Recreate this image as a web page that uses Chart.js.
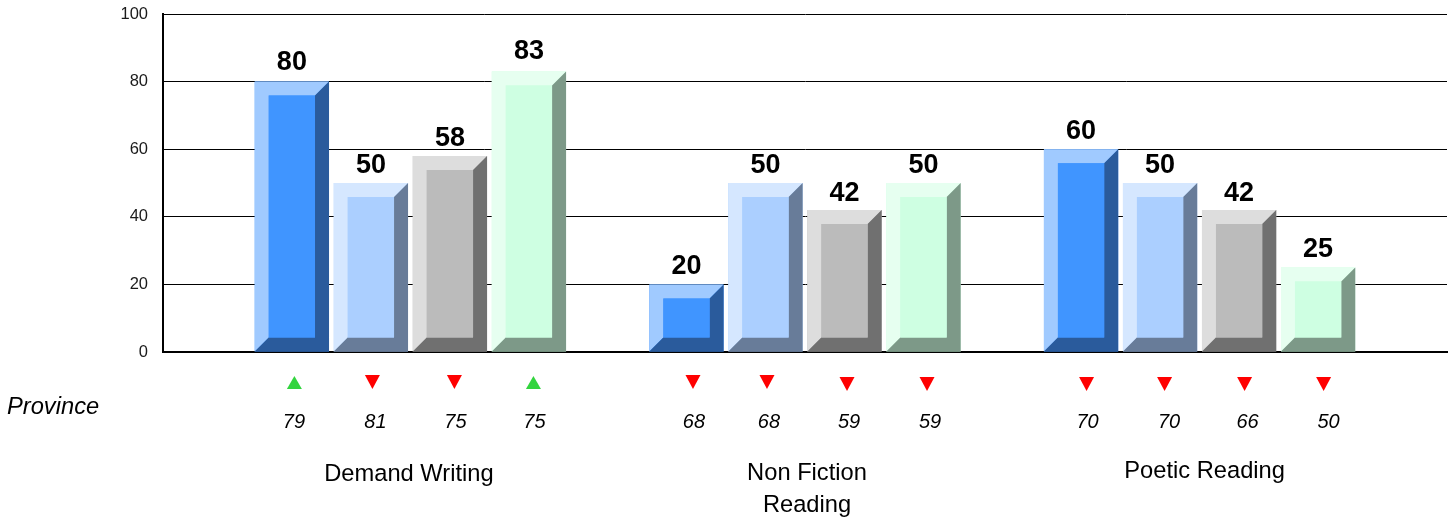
<!DOCTYPE html>
<html lang="en">
<head>
  <meta charset="UTF-8">
  <title>Demand Writing, Non Fiction Reading, Poetic Reading</title>
  <style>
    html, body { margin: 0; background: #fff; }
    canvas { display: block; }
  </style>
</head>
<body>
  <canvas id="chart" width="1448" height="519"></canvas>

  <script src="https://cdn.jsdelivr.net/npm/chart.js"></script>
  <script>
    const categories = [['Demand Writing'], ['Non Fiction', 'Reading'], ['Poetic Reading']];
    const yTicks = [0, 20, 40, 60, 80, 100];

    const seriesA = [80, 20, 60];
    const seriesB = [50, 50, 50];
    const seriesC = [58, 42, 42];
    const seriesD = [83, 50, 25];

    const provinceA = [79, 68, 70];
    const provinceB = [81, 68, 70];
    const provinceC = [75, 59, 66];
    const provinceD = [75, 59, 50];

    // face, light bevel (top/left), dark bevel (right/bottom)
    const palette = [
      ['#4095ff', '#a0caff', '#2a5b9c'],
      ['#abcfff', '#d5e7ff', '#687c99'],
      ['#bbbbbb', '#dddddd', '#707070'],
      ['#ceffe2', '#e6fff0', '#7d9988']
    ];

    const allSeries = [seriesA, seriesB, seriesC, seriesD];
    const allProvince = [provinceA, provinceB, provinceC, provinceD];

    // the original labels are not centred on their bars, small offsets in px
    const markerNudge = [[2.5, 1.5, 4.5, 4.5], [6.5, 1.5, 2.5, 3.5], [5.5, 4.5, 5.5, 5.5]];
    const markerTop = [[376, 375, 375, 376], [375, 375, 377, 377], [377, 377, 377, 377]];
    const provinceNudge = [[2, 4.5, 5.5, 5.5], [7.5, 3.5, 4.5, 6.5], [6.5, 9, 8.5, 10.5]];
    const valueNudge = [[-2, 0, 0, -2], [0, 0, 1, 0], [0, 0, 1, -1]];
    const categoryNudge = [-1.5, 2, 5];
    const categoryY = [473, 472, 470];

    const BEVEL = 14;
    const FONT = "'Liberation Sans', Arial, sans-serif";

    function poly(ctx, color, pts) {
      ctx.fillStyle = color;
      ctx.beginPath();
      pts.forEach((p, i) => i ? ctx.lineTo(p[0], p[1]) : ctx.moveTo(p[0], p[1]));
      ctx.closePath();
      ctx.fill();
    }

    const bevelPlugin = {
      id: 'bevel',
      afterDatasetsDraw(chart) {
        const ctx = chart.ctx;
        ctx.save();
        chart.data.datasets.forEach((ds, d) => {
          const [face, light, dark] = palette[d];
          chart.getDatasetMeta(d).data.forEach((bar, i) => {
            const l = bar.x - bar.width / 2, r = bar.x + bar.width / 2;
            const t = bar.y, b = bar.base;
            const il = l + BEVEL, ir = r - BEVEL, it = t + BEVEL, ib = b - BEVEL;
            poly(ctx, light, [[l, t], [r, t], [ir, it], [il, it], [il, ib], [l, b]]);
            poly(ctx, dark, [[r, t], [r, b], [l, b], [il, ib], [ir, ib], [ir, it]]);
            poly(ctx, face, [[il, it], [ir, it], [ir, ib], [il, ib]]);

            // value on top of the bar
            ctx.fillStyle = '#000';
            ctx.font = 'bold 27px ' + FONT;
            ctx.textAlign = 'center';
            ctx.textBaseline = 'alphabetic';
            ctx.fillText(allSeries[d][i], bar.x, t - 10 + valueNudge[i][d]);

            // province comparison, triangle and number
            const mx = bar.x + markerNudge[i][d];
            const my = markerTop[i][d];
            const province = allProvince[d][i];
            if (allSeries[d][i] >= province) {
              poly(ctx, '#33d43f', [[mx, my], [mx + 7.5, my + 13], [mx - 7.5, my + 13]]);
            } else {
              poly(ctx, '#ff0000', [[mx - 7.5, my], [mx + 7.5, my], [mx, my + 14]]);
            }
            ctx.fillStyle = '#000';
            ctx.font = 'italic 20px ' + FONT;
            ctx.fillText(province, bar.x + provinceNudge[i][d], 428);
          });
        });

        // category names under each group
        const x = chart.scales.x;
        ctx.fillStyle = '#000';
        ctx.font = '23.7px ' + FONT;
        ctx.textAlign = 'center';
        categories.forEach((lines, i) => {
          lines.forEach((line, n) => {
            ctx.fillText(line, x.getPixelForValue(i + 1) + categoryNudge[i], categoryY[i] + 8 + n * 32);
          });
        });

        ctx.textAlign = 'left';
        ctx.font = 'italic 23.7px ' + FONT;
        ctx.fillText('Province', 7, 414);
        ctx.restore();
      }
    };

    new Chart(document.getElementById('chart'), {
      type: 'bar',
      data: {
        datasets: allSeries.map((values, d) => ({
          data: values.map((v, i) => ({ x: i + 1, y: v })),
          backgroundColor: palette[d][0],
          borderWidth: 0,
          barPercentage: 0.94,
          categoryPercentage: 0.801
        }))
      },
      options: {
        responsive: false,
        animation: false,
        layout: { padding: { top: 14, right: 1 } },
        plugins: { legend: { display: false }, tooltip: { enabled: false } },
        scales: {
          x: {
            type: 'linear',
            offset: false,
            min: 0.373,
            max: 3.627,
            afterFit(scale) { scale.height = 167; },
            afterBuildTicks(scale) { scale.ticks = categories.map((c, i) => ({ value: i + 1 })); },
            ticks: { display: false },
            grid: { display: false },
            border: { color: '#000', width: 2 }
          },
          y: {
            min: 0,
            max: 100,
            afterFit(scale) {
              scale.width = 163;
              scale.paddingTop = 0;
              scale.paddingBottom = 0;
            },
            afterBuildTicks(scale) { scale.ticks = yTicks.map(v => ({ value: v })); },
            ticks: {
              color: '#1a1a1a',
              padding: 15,
              font: { family: FONT, size: 16.5 }
            },
            grid: { color: '#000', lineWidth: 1, drawTicks: false },
            border: { color: '#000', width: 2 }
          }
        }
      },
      plugins: [bevelPlugin]
    });
  </script>
</body>
</html>
